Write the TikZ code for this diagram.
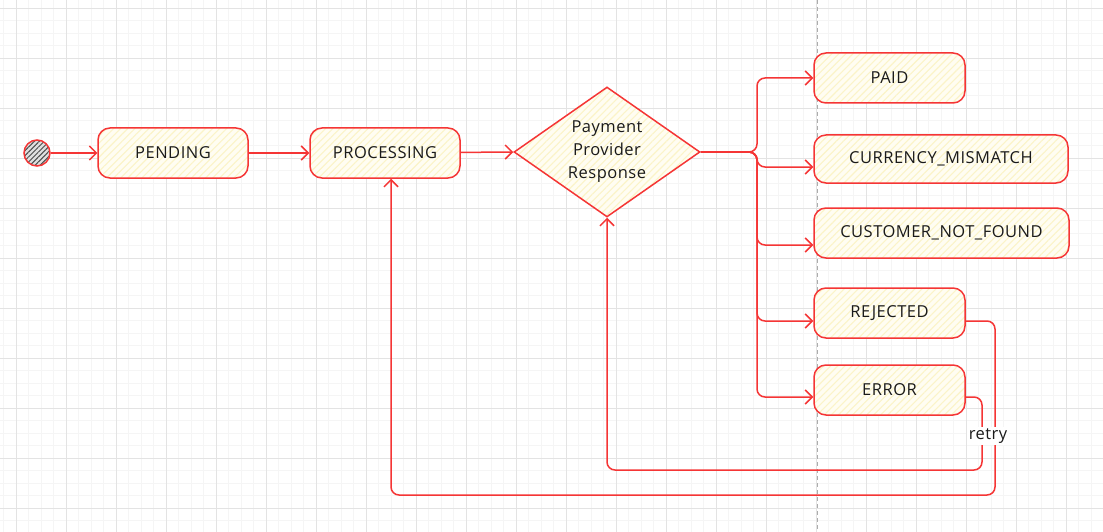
\documentclass[tikz,border=0pt]{standalone}
\usepackage{fontspec}
\setmainfont{Open Sans}[LetterSpace=3]
\usetikzlibrary{arrows.meta,shapes.geometric,patterns.meta}

\definecolor{statered}{HTML}{F53535}
\definecolor{statefill}{HTML}{FFFDF2}
\definecolor{statestripe}{HTML}{FBF4C8}
\definecolor{gridminor}{HTML}{F5F5F5}
\definecolor{gridmajor}{HTML}{E3E3E3}
\definecolor{statetext}{HTML}{1A1A1A}

\begin{document}
\begin{tikzpicture}[x=1pt,y=-1pt]

    \tikzset{
      state/.style={
        draw=statered,
        line width=1.5pt,
        rounded corners=12pt,
        preaction={fill=statefill},
        pattern={Lines[angle=45,distance=5pt,line width=1.1pt]},
        pattern color=statestripe,
        minimum height=50pt,
        inner sep=0pt,
        text=statetext,
        font=\fontsize{16.5}{19}\selectfont,
      },
      choice/.style={
        state,
        rounded corners=0pt,
        diamond,
        aspect=1.43,
        minimum width=186pt,
        minimum height=130pt,
        align=center,
        font=\fontsize{16.5}{23}\selectfont,
      },
      initial/.style={
        circle,
        draw=statered,
        line width=1.5pt,
        preaction={fill=gray!25},
        pattern={Lines[angle=45,distance=3.5pt,line width=1pt]},
        pattern color=black!70,
        minimum size=26pt,
        inner sep=0pt,
      },
      flow/.style={
        draw=statered,
        line width=1.5pt,
        rounded corners=8pt,
        -{Straight Barb[length=7pt,width=14pt]},
      },
    }

    \useasboundingbox (0,0) rectangle (1103,532);
    \fill[white] (0,0) rectangle (1103,532);

    % background grid
    \begin{scope}
    \clip (0,0) rectangle (1103,532);
    \begin{scope}[shift={(16,8)}]
    \draw[gridminor, line width=0.8pt, step=12.5pt] (-20,-20) grid (1100,530);
    \draw[gridmajor, line width=0.8pt, step=50pt] (-20,-20) grid (1100,530);
    \end{scope}
    \end{scope}
    \draw[gray!65, line width=0.6pt, dash pattern=on 4pt off 3pt] (817,0) -- (817,532);

    % states
    \node[initial] (start) at (37,153) {};
    \node[state, minimum width=150pt] (pending) at (173,153) {PENDING};
    \node[state, minimum width=150pt] (processing) at (385,153) {PROCESSING};
    \node[choice] (provider) at (607,152) {Payment\\Provider\\Response};

    \node[state, minimum width=151pt] (paid) at (889.5,78) {PAID};
    \node[state, minimum width=254pt, minimum height=48pt] (mismatch) at (941,159) {CURRENCY\_MISMATCH};
    \node[state, minimum width=255pt] (notfound) at (941.5,233) {CUSTOMER\_NOT\_FOUND};
    \node[state, minimum width=151pt] (rejected) at (889.5,313) {REJECTED};
    \node[state, minimum width=151pt] (error) at (889.5,390) {ERROR};

    \coordinate (fork) at (757,152);
    \coordinate (backA) at (995,495);
    \coordinate (backB) at (982,470);

    % transitions
    \draw[flow] (start) -- (pending);
    \draw[flow] (pending) -- (processing);
    \draw[flow] (processing) -- (provider.west);

    \draw[flow] (provider.east) -- (fork) |- (paid.west);
    \draw[flow] (provider.east) -- (fork) |- ([yshift=-8pt]mismatch.west);
    \draw[flow] (provider.east) -- (fork) |- ([yshift=-12pt]notfound.west);
    \draw[flow] (provider.east) -- (fork) |- ([yshift=-8pt]rejected.west);
    \draw[flow] (provider.east) -- (fork) |- ([yshift=-7pt]error.west);

    \draw[flow] ([yshift=-8pt]rejected.east) -| (backA) -| ([xshift=6pt]processing.south);
    \draw[flow] ([yshift=-7pt]error.east) -| (backB) -| (provider.south);

    \node[fill=white, inner sep=2pt, text=statetext, font=\fontsize{16.5}{19}\selectfont] (retry) at (988,436) {retry};

\end{tikzpicture}
\end{document}
